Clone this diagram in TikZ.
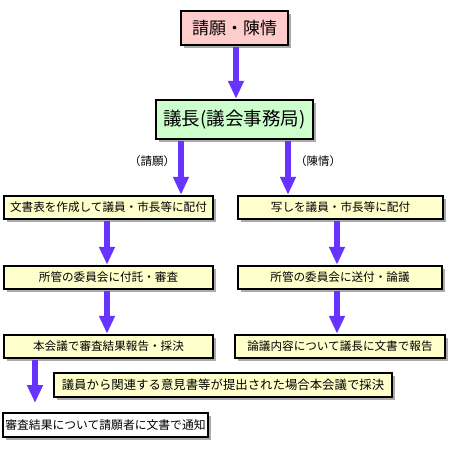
\documentclass[tikz,border=0pt]{standalone}
\usepackage{fontspec}
\setmainfont{Noto Sans CJK JP}
\usetikzlibrary{arrows.meta,shadows}
\definecolor{pinkc}{HTML}{FFCCCC}
\definecolor{greenc}{HTML}{CCFFCC}
\definecolor{yellowc}{HTML}{FFFFCC}
\definecolor{arrowc}{HTML}{6633FF}
\begin{document}
\begin{tikzpicture}[x=1pt,y=-1pt,
  box/.style={draw=black, line width=2.4pt, inner sep=0pt, align=center,
    drop shadow={shadow xshift=3pt, shadow yshift=-3pt, fill=black!55, opacity=0.6}},
  rowtext/.style={font=\fontsize{11.6}{13}\selectfont},
  bigtext/.style={font=\fontsize{17}{20}\selectfont},
  lab/.style={font=\fontsize{11.5}{13}\selectfont, inner sep=0pt},
  arr/.style={draw=arrowc, line width=6pt, shorten <=1.2pt, -{Triangle[width=15pt,length=18pt]}}
]
\useasboundingbox (0,0) rectangle (450,450);
\node[box, bigtext, fill=pinkc, minimum width=107pt, minimum height=34pt] (top) at (234.5,28) {請願・陳情};
\node[box, font=\fontsize{18.5}{21}\selectfont, fill=greenc, minimum width=157pt, minimum height=39pt] (b2) at (234.5,119.5) {議長(議会事務局)};
\node[box, rowtext, fill=yellowc, minimum width=209pt, minimum height=23pt] (l1) at (108.5,207.5) {文書表を作成して議員・市長等に配付};
\node[box, rowtext, fill=yellowc, minimum width=205pt, minimum height=23pt] (r1) at (340.5,207.5) {写しを議員・市長等に配付};
\node[box, rowtext, fill=yellowc, minimum width=209pt, minimum height=23pt] (l2) at (108.5,277.5) {所管の委員会に付託・審査};
\node[box, rowtext, fill=yellowc, minimum width=204pt, minimum height=23pt] (r2) at (340,277.5) {所管の委員会に送付・論議};
\node[box, rowtext, fill=yellowc, minimum width=209pt, minimum height=23pt] (l3) at (108.5,346.5) {本会議で審査結果報告・採決};
\node[box, rowtext, fill=yellowc, minimum width=210pt, minimum height=23pt] (r3) at (340,346.5) {論議内容について議長に文書で報告};
\node[box, font=\fontsize{12.4}{14}\selectfont, fill=yellowc, minimum width=338pt, minimum height=24pt] (m) at (223,385) {議員から関連する意見書等が提出された場合本会議で採決};
\node[box, font=\fontsize{11.8}{13}\selectfont, fill=white, minimum width=205pt, minimum height=24pt] (bot) at (105.5,425) {審査結果について請願者に文書で通知};
\node[lab] (lq) at (152,161) {（請願）};
\node[lab] (rq) at (318,161) {（陳情）};
\coordinate (end3) at (35,403);
\draw[arr] (236,0 |- top.south) -- (236,0 |- b2.north);
\draw[arr] (181,0 |- b2.south) -- (181,0 |- l1.north);
\draw[arr] (288,0 |- b2.south) -- (288,0 |- r1.north);
\draw[arr] (107,0 |- l1.south) -- (107,0 |- l2.north);
\draw[arr] (107,0 |- l2.south) -- (107,0 |- l3.north);
\draw[arr] (337,0 |- r1.south) -- (337,0 |- r2.north);
\draw[arr] (337,0 |- r2.south) -- (337,0 |- r3.north);
\draw[arr] (35,0 |- l3.south) -- (end3);
\end{tikzpicture}
\end{document}
